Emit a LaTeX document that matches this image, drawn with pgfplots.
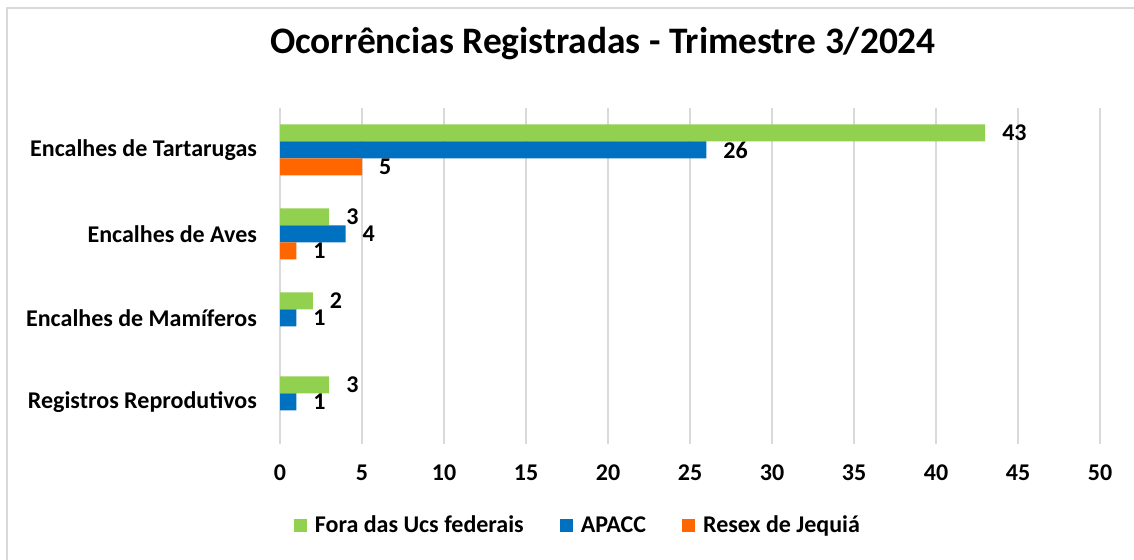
\documentclass[border=0pt]{standalone}
\usepackage{fontspec}
\setmainfont{Carlito}
\usepackage{pgfplots}
\pgfplotsset{compat=1.18}
\definecolor{cgreen}{HTML}{92D050}
\definecolor{cblue}{HTML}{0070C0}
\definecolor{corange}{HTML}{FF6600}
\definecolor{cgrid}{HTML}{D9D9D9}
\newcommand{\lblfont}{\bfseries\fontsize{12}{14.4}\selectfont}
\begin{document}
\begin{tikzpicture}[x=1pt,y=1pt]
\useasboundingbox (0,0) rectangle (567,280);
\draw[cgrid, line width=1pt] (3.5,0) -- (3.5,276) -- (567,276);
\node[font=\bfseries\fontsize{18.7}{22}\selectfont] at (301.5,258) {Ocorrências Registradas - Trimestre 3/2024};
\begin{axis}[
  at={(140pt,58pt)}, anchor=south west,
  scale only axis, width=410pt, height=168pt,
  xbar=0pt, bar width=8.5pt,
  xmin=0, xmax=50, ymin=-0.5, ymax=3.5,
  ytick={0,1,2,3},
  yticklabels={Registros Reprodutivos, Encalhes de Mamíferos, Encalhes de Aves, Encalhes de Tartarugas},
  xtick={0,5,...,50},
  xmajorgrids, grid style={draw=cgrid, line width=0.75pt},
  axis line style={draw=none},
  major tick length=0pt,
  tick label style={font=\lblfont},
  xticklabel style={yshift=-7pt},
  yticklabel style={xshift=-8pt},
  /pgf/number format/assume math mode=true,
  nodes near coords,
  nodes near coords style={font=\lblfont, anchor=west, xshift=5pt, text=black},
  legend columns=3,
  legend style={at={(0.3646,-0.244)}, anchor=center, draw=none, font=\lblfont,
    /tikz/every odd column/.append style={column sep=2pt},
    /tikz/every even column/.append style={column sep=16pt}},
  legend image code/.code={\fill[#1] (0pt,-3.25pt) rectangle (6.5pt,3.25pt);},
]
\addplot[fill=cgreen, draw=none, bar shift=8.5pt] coordinates {(43,3) (3,2) (2,1) (3,0)};
\addplot[fill=cblue, draw=none, bar shift=0pt] coordinates {(26,3) (4,2) (1,1) (1,0)};
\addplot[fill=corange, draw=none, bar shift=-8.5pt] coordinates {(5,3) (1,2)};
\legend{Fora das Ucs federais, APACC, Resex de Jequiá}
\end{axis}
\end{tikzpicture}
\end{document}
